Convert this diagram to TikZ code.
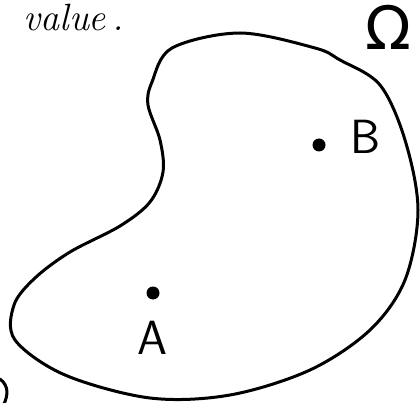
\documentclass[tikz,border=0pt]{standalone}
\usepackage{fontspec}
\newfontfamily\symfont{DejaVu Sans}
\begin{document}
\begin{tikzpicture}[
	x=1pt,y=-1pt,
	every node/.style={font=\sffamily\fontsize{48}{50}\selectfont},
	dot/.style={circle,fill=black,inner sep=0pt,minimum size=13pt},
	stroke/.style={line width=3pt,line cap=round,line join=round}
	]
	\useasboundingbox (0,0) rectangle (420,403);
	\clip (0,0) rectangle (420,403);
	% the region
	\draw[stroke] plot[smooth cycle,tension=0.55] coordinates {
		(172,48) (240,33) (315,48) (340,60) (380,85) (405,140)
		(418,210) (405,280) (370,330) (310,370) (230,395) (150,398)
		(65,375) (15,340) (14,305) (35,278) (70,252) (120,226)
		(150,202) (163,172) (160,140) (148,105) (152,82)};
	% points
	\node[dot] (a) at (153,293) {};
	\node (la) at (152,338) {A};
	\node[dot] (b) at (319,145) {};
	\node (lb) at (366,137) {B};
	% cut off bits
	\node[anchor=base east,inner sep=0pt,font=\itshape\fontsize{38}{40}\selectfont] (txt) at (124,31) {value\,.};
	\node[anchor=base west,font=\symfont\fontsize{60}{62}\selectfont] (omega) at (362,50) {Ω};
	\draw[stroke] (0,379) .. controls (9,386) and (8,395) .. (4,404);
\end{tikzpicture}
\end{document}
